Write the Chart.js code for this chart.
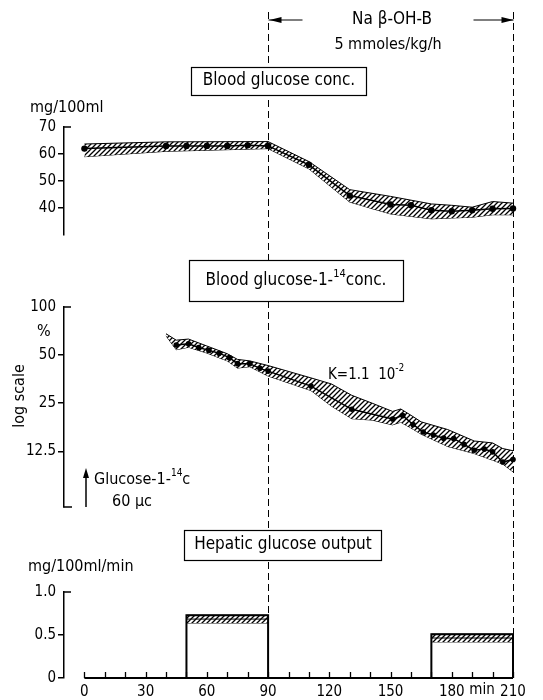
<!DOCTYPE html>
<html>
<head>
<meta charset="utf-8">
<script src="https://cdn.jsdelivr.net/npm/chart.js@4.4.1/dist/chart.umd.min.js"></script>
<style>
  html, body { margin: 0; padding: 0; background: #fff; }
  #wrap { position: relative; width: 543px; height: 700px; overflow: hidden; }
  #wrap canvas { position: absolute; left: 0; }
</style>
</head>
<body>
<div id="wrap">
  <canvas id="glucose" width="543" height="290" style="top:0px"></canvas>
  <canvas id="tracer" width="543" height="290" style="top:250px"></canvas>
  <canvas id="output" width="543" height="180" style="top:520px"></canvas>
</div>
<script>
// infusion window (min)
const infusion = [90, 210];
const timeTicks = [0, 30, 60, 90, 120, 150, 180, 210];

// blood glucose conc. (mg/100ml)
const glucoseTime = [0, 40, 50, 60, 70, 80, 90, 110, 130, 150, 160, 170, 180, 190, 200, 210];
const glucoseMean = [62, 63, 63, 63, 63, 63.2, 63, 56, 44.6, 41.3, 41, 39.2, 38.8, 39.2, 39.7, 39.8];
const glucoseBandTime = [0, 40, 90, 110, 130, 150, 170, 180, 190, 200, 210];
const glucoseUpper = [63.7, 64.5, 64.6, 57.2, 46.8, 44.3, 41.5, 41, 40.3, 42.4, 41.8];
const glucoseLower = [59, 61, 62, 54.5, 42.2, 37.8, 36, 36.3, 36.6, 37.5, 37.5];
const glucoseTicks = [40, 50, 60, 70];

// blood glucose-1-14C conc. (%, log scale)
const tracerTime = [45, 51, 56, 61, 66, 71, 75, 81, 86, 90, 111, 131, 151, 156, 161, 166, 171, 176, 181, 186, 191, 196, 200, 205, 210];
const tracerMean = [57.8, 58.8, 55.8, 53.5, 51.4, 48.2, 44.2, 44.2, 41.3, 39.7, 32, 22.9, 19.9, 20.9, 18.4, 16.5, 15.8, 15.1, 15, 13.8, 12.7, 12.9, 12.4, 10.7, 11.1];
const tracerBandTime = [40, 45, 51, 60, 70, 75, 81, 90, 111, 121, 131, 141, 151, 155, 160, 165, 178, 191, 200, 205, 210];
const tracerUpper = [68, 62, 63, 57, 51, 47, 46, 43, 36, 33, 28, 25, 22.2, 23, 21, 19.1, 17.1, 14.5, 14.1, 13, 12.6];
const tracerLower = [66, 54, 56, 51.5, 46, 41.5, 42.3, 37, 30, 24, 20, 19.6, 18.3, 19, 17.5, 16, 13.4, 12.1, 11, 10.4, 9.3];
const tracerTicks = [12.5, 25, 50, 100];

// hepatic glucose output (mg/100ml/min)
const outputStart = [50, 170];
const outputEnd = [90, 210];
const outputMean = [0.685, 0.465];
const outputErr = [0.045, 0.045];
const outputTicks = [0, 0.5, 1.0];

const FONT = '"DejaVu Sans Condensed", "Liberation Sans Narrow", "DejaVu Sans", sans-serif';
Chart.defaults.font.family = FONT;
Chart.defaults.color = '#000';

function hatch() {
    const c = document.createElement('canvas');
    c.width = c.height = 5;
    const g = c.getContext('2d');
    g.fillStyle = '#fff';
    g.fillRect(0, 0, 5, 5);
    g.strokeStyle = '#000';
    g.lineWidth = 1.3;
    g.beginPath();
    g.moveTo(-1, 6); g.lineTo(6, -1);
    g.moveTo(-1, 1); g.lineTo(1, -1);
    g.moveTo(4, 6); g.lineTo(6, 4);
    g.stroke();
    return g.createPattern(c, 'repeat');
}
const pattern = hatch();

function pts(xs, ys) {
    return xs.map((x, i) => ({ x: x, y: ys[i] }));
}

// chart.js paints lower "order" on top
function edge(data, order) {
    return { data: data, borderColor: '#000', borderWidth: 1, pointRadius: 0, fill: false, tension: 0,
             clip: false, order: order };
}

function meanLine(data, r) {
    return { data: data, borderColor: '#000', borderWidth: 1.5, pointRadius: r, pointBackgroundColor: '#000',
             pointBorderWidth: 0, fill: false, tension: 0, clip: false, order: 0 };
}

function xAxis(show) {
    return {
        type: 'linear', min: -10, max: 210, display: show,
        border: { display: false }, grid: { display: false },
        afterBuildTicks: s => { s.ticks = timeTicks.map(v => ({ value: v })); },
        afterFit: s => { s.height = 22; },
        ticks: { font: { size: 15 }, padding: -3, maxRotation: 0, autoSkip: false }
    };
}

function yAxis(type, min, max, ticks) {
    const top = ticks[ticks.length - 1];
    return {
        type: type, min: min, max: max, position: 'left',
        border: { display: true, color: '#000', width: 1.5 },
        grid: { drawOnChartArea: false, drawTicks: true, tickLength: 6, lineWidth: 1.5,
                color: c => (c.tick && c.tick.value === top) ? 'rgba(0,0,0,0)' : '#000' },
        afterBuildTicks: s => { s.ticks = ticks.map(v => ({ value: v })); },
        afterFit: s => { s.width = 64; },
        ticks: { font: { size: 15 }, padding: 2, callback: v => (v === 1 && max === 1 ? '1.0' : String(v)) }
    };
}

// helpers for the drawn annotations
function runs(ctx, parts, x, y, align, size) {
    let w = 0;
    parts.forEach(p => {
        ctx.font = (p.sup ? Math.round(size * 0.65) : size) + 'px ' + FONT;
        w += ctx.measureText(p.t).width;
    });
    let cx = align === 'center' ? x - w / 2 : x;
    ctx.textAlign = 'left';
    ctx.textBaseline = 'middle';
    ctx.fillStyle = '#000';
    parts.forEach(p => {
        ctx.font = (p.sup ? Math.round(size * 0.65) : size) + 'px ' + FONT;
        ctx.fillText(p.t, cx, p.sup ? y - size * 0.42 : y);
        cx += ctx.measureText(p.t).width;
    });
}

function box(ctx, x1, y1, x2, y2) {
    ctx.fillStyle = '#fff';
    ctx.fillRect(x1, y1, x2 - x1, y2 - y1);
    ctx.strokeStyle = '#000';
    ctx.lineWidth = 1.2;
    ctx.strokeRect(x1 + 0.5, y1 + 0.5, x2 - x1, y2 - y1);
}

function dashed(chart, y0, y1) {
    const ctx = chart.ctx;
    ctx.save();
    ctx.strokeStyle = '#000';
    ctx.lineWidth = 1;
    ctx.setLineDash([7, 4]);
    infusion.forEach(v => {
        const px = Math.round(chart.scales.x.getPixelForValue(v)) + 0.5;
        ctx.beginPath();
        ctx.moveTo(px, y0);
        ctx.lineTo(px, y1);
        ctx.stroke();
    });
    ctx.restore();
}

function corner(ctx, x, y, len) {
    ctx.strokeStyle = '#000';
    ctx.lineWidth = 1.5;
    ctx.beginPath();
    ctx.moveTo(x - 0.75, y);
    ctx.lineTo(x + len, y);
    ctx.stroke();
}

function arrowHead(ctx, x, y, dir) {
    ctx.beginPath();
    ctx.moveTo(x, y);
    ctx.lineTo(x - dir * 12, y - 3);
    ctx.lineTo(x - dir * 12, y + 3);
    ctx.closePath();
    ctx.fill();
}

const base = {
    responsive: false, animation: false, events: [],
    plugins: { legend: { display: false }, tooltip: { enabled: false } }
};

// ---- top panel: blood glucose conc.
new Chart(document.getElementById('glucose'), {
    type: 'line',
    data: { datasets: [
        edge(pts(glucoseBandTime, glucoseLower), 2),
        Object.assign(edge(pts(glucoseBandTime, glucoseUpper), 1), { fill: '-1', backgroundColor: pattern }),
        meanLine(pts(glucoseTime, glucoseMean), 3.2)
    ] },
    options: Object.assign({}, base, {
        layout: { padding: { top: 127, bottom: 33, left: 0, right: 30 } },
        scales: { x: xAxis(false), y: yAxis('linear', 30, 70, glucoseTicks) }
    }),
    plugins: [{
        id: 'decor1',
        beforeDatasetsDraw(chart) { dashed(chart, 12, 290); },
        afterDraw(chart) {
            const ctx = chart.ctx, x = chart.scales.x, a = chart.chartArea;
            const x0 = Math.round(x.getPixelForValue(infusion[0])) + 0.5;
            const x1 = Math.round(x.getPixelForValue(infusion[1])) + 0.5;
            ctx.save();
            ctx.fillStyle = '#000';
            ctx.strokeStyle = '#000';
            ctx.lineWidth = 1.2;
            ctx.beginPath();
            ctx.moveTo(x0, 20); ctx.lineTo(x0 + 34, 20);
            ctx.moveTo(x1 - 40, 20); ctx.lineTo(x1, 20);
            ctx.stroke();
            arrowHead(ctx, x0 + 1, 20, -1);
            arrowHead(ctx, x1, 20, 1);
            runs(ctx, [{ t: 'Na β-OH-B' }], 392, 20, 'center', 17);
            runs(ctx, [{ t: '5 mmoles/kg/h' }], 388, 45, 'center', 16);
            box(ctx, 191, 67, 366, 95);
            runs(ctx, [{ t: 'Blood glucose conc.' }], 279, 81, 'center', 17);
            runs(ctx, [{ t: 'mg/100ml' }], 30, 108, 'left', 16);
            corner(ctx, a.left, a.top, 7);
            ctx.restore();
        }
    }]
});

// ---- middle panel: blood glucose-1-14C conc. (log)
new Chart(document.getElementById('tracer'), {
    type: 'line',
    data: { datasets: [
        edge(pts(tracerBandTime, tracerLower), 2),
        Object.assign(edge(pts(tracerBandTime, tracerUpper), 1), { fill: '-1', backgroundColor: pattern }),
        meanLine(pts(tracerTime, tracerMean), 2.8)
    ] },
    options: Object.assign({}, base, {
        layout: { padding: { top: 57, bottom: 11, left: 0, right: 30 } },
        scales: { x: xAxis(false), y: yAxis('logarithmic', 5.6, 100, tracerTicks) }
    }),
    plugins: [{
        id: 'decor2',
        beforeDatasetsDraw(chart) { dashed(chart, 40, 290); },
        afterDraw(chart) {
            const ctx = chart.ctx, a = chart.chartArea;
            ctx.save();
            box(ctx, 189, 10, 403, 51);
            runs(ctx, [{ t: 'Blood glucose-1-' }, { t: '14', sup: true }, { t: 'conc.' }], 296, 31, 'center', 17);
            runs(ctx, [{ t: '%' }], 37, 82, 'left', 16);
            ctx.save();
            ctx.translate(20, 146);
            ctx.rotate(-Math.PI / 2);
            runs(ctx, [{ t: 'log scale' }], 0, 0, 'center', 16);
            ctx.restore();
            runs(ctx, [{ t: 'K=1.1  10' }, { t: '-2', sup: true }], 328, 125, 'left', 15);
            // injection marker
            ctx.strokeStyle = '#000';
            ctx.fillStyle = '#000';
            ctx.lineWidth = 1.5;
            ctx.beginPath();
            ctx.moveTo(86, 257); ctx.lineTo(86, 226);
            ctx.stroke();
            ctx.beginPath();
            ctx.moveTo(86, 218); ctx.lineTo(83, 228); ctx.lineTo(89, 228); ctx.closePath();
            ctx.fill();
            runs(ctx, [{ t: 'Glucose-1-' }, { t: '14', sup: true }, { t: 'c' }], 94, 230, 'left', 16);
            runs(ctx, [{ t: '60 μc' }], 112, 252, 'left', 16);
            corner(ctx, a.left, a.top, 7);
            corner(ctx, a.left, a.bottom, 8);
            ctx.restore();
        }
    }]
});

// ---- bottom panel: hepatic glucose output
const outputSets = [];
outputStart.forEach((s, i) => {
    const e = outputEnd[i], m = outputMean[i], d = outputErr[i];
    outputSets.push(edge(pts([s, e], [m - d, m - d]), 3));
    outputSets.push(Object.assign(edge(pts([s, e], [m + d, m + d]), 2), { fill: '-1', backgroundColor: pattern }));
    outputSets.push(edge(pts([s, e], [m, m]), 1));
    outputSets.push(Object.assign(edge(pts([s, s, e, e], [0, m + d, m + d, 0]), 0), { borderWidth: 2 }));
});

new Chart(document.getElementById('output'), {
    type: 'line',
    data: { datasets: outputSets },
    options: Object.assign({}, base, {
        layout: { padding: { top: 72, bottom: 0, left: 0, right: 30 } },
        scales: { x: xAxis(true), y: yAxis('linear', 0, 1, outputTicks) }
    }),
    plugins: [{
        id: 'decor3',
        beforeDatasetsDraw(chart) {
            const ctx = chart.ctx, x = chart.scales.x, a = chart.chartArea;
            dashed(chart, 20, a.bottom);
            // time baseline with minor ticks every 10 min
            ctx.save();
            ctx.strokeStyle = '#000';
            ctx.lineWidth = 2;
            ctx.beginPath();
            ctx.moveTo(x.getPixelForValue(0), a.bottom);
            ctx.lineTo(x.getPixelForValue(210), a.bottom);
            ctx.stroke();
            ctx.lineWidth = 1.3;
            ctx.beginPath();
            for (let t = 0; t <= 210; t += 10) {
                const px = Math.round(x.getPixelForValue(t)) + 0.5;
                ctx.moveTo(px, a.bottom);
                ctx.lineTo(px, a.bottom - 6);
            }
            ctx.stroke();
            ctx.restore();
        },
        afterDraw(chart) {
            const ctx = chart.ctx, a = chart.chartArea;
            ctx.save();
            box(ctx, 184, 10, 381, 40);
            runs(ctx, [{ t: 'Hepatic glucose output' }], 283, 25, 'center', 17);
            runs(ctx, [{ t: 'mg/100ml/min' }], 28, 47, 'left', 16);
            runs(ctx, [{ t: 'min' }], 482, 170, 'center', 15);
            corner(ctx, a.left, a.top, 7);
            ctx.restore();
        }
    }]
});
</script>
</body>
</html>
